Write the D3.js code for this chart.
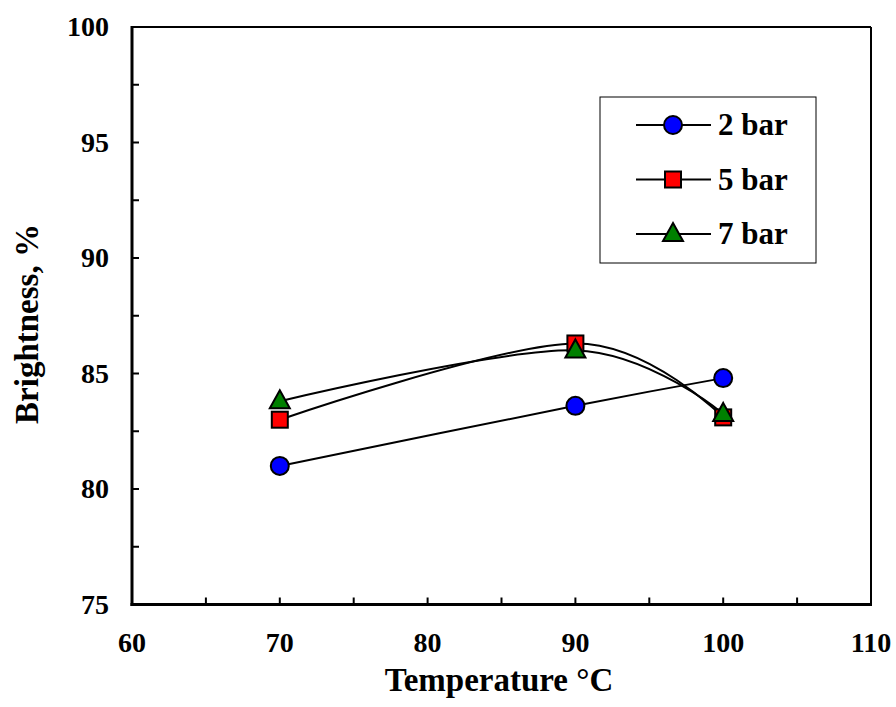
<!DOCTYPE html>
<html>
<head>
<meta charset="utf-8">
<script src="https://cdn.jsdelivr.net/npm/d3@7"></script>
<style>
  body { margin: 0; background: #fff; }
</style>
</head>
<body>
<svg id="chart" width="896" height="707"></svg>
<script>
'use strict';

// temperature (°C) and brightness (%) per pressure
var temps = [70, 90, 100];
var bar2 = [81.0, 83.6, 84.8];
var bar5 = [83.0, 86.3, 83.1];
var bar7 = [83.8, 86.0, 83.25];
var seriesNames = ['2 bar', '5 bar', '7 bar'];
var xTicks = [60, 70, 80, 90, 100, 110];
var yTicks = [75, 80, 85, 90, 95, 100];

var FONT = '"Liberation Serif", "Times New Roman", Times, "DejaVu Serif", serif';

var svg = d3.select('#chart')
    .style('font-family', FONT)
    .style('font-weight', 'bold');

var pLeft = 132, pRight = 871, pTop = 27, pBottom = 604.5;

var x = d3.scaleLinear().domain([60, 110]).range([pLeft, pRight]),
    y = d3.scaleLinear().domain([75, 100]).range([pBottom, pTop]);

var series = [
    {name: seriesNames[0], values: bar2, fill: '#0000ff', shape: 'circle'},
    {name: seriesNames[1], values: bar5, fill: '#ff0000', shape: 'square'},
    {name: seriesNames[2], values: bar7, fill: '#008000', shape: 'triangle'}
];

function label(sel) {
    return sel.style('font-family', FONT).style('font-weight', 'bold').attr('fill', '#000');
}

// frame: top/right thinner than the axes
svg.append('line')
    .attr('x1', pLeft).attr('x2', pRight).attr('y1', pTop).attr('y2', pTop)
    .attr('stroke', '#000').attr('stroke-width', 2);
svg.append('line')
    .attr('x1', pRight).attr('x2', pRight).attr('y1', pTop).attr('y2', pBottom)
    .attr('stroke', '#000').attr('stroke-width', 2);

// ticks point inwards, minor ticks between majors
var gx = svg.append('g');
d3.range(60, 110.1, 5).forEach(function(v) {
    gx.append('line')
        .attr('x1', x(v)).attr('x2', x(v))
        .attr('y1', pBottom).attr('y2', pBottom - 7)
        .attr('stroke', '#000').attr('stroke-width', 2);
});
gx.selectAll('text.tick')
    .data(xTicks)
    .enter().append('text')
        .attr('class', 'tick')
        .attr('x', function(d) { return x(d); })
        .attr('y', 652)
        .attr('text-anchor', 'middle')
        .attr('font-size', 28)
        .call(label)
        .text(function(d) { return d; });

var gy = svg.append('g');
d3.range(75, 100.1, 2.5).forEach(function(v) {
    gy.append('line')
        .attr('x1', pLeft).attr('x2', pLeft + 7)
        .attr('y1', y(v)).attr('y2', y(v))
        .attr('stroke', '#000').attr('stroke-width', 2);
});
gy.selectAll('text.tick')
    .data(yTicks)
    .enter().append('text')
        .attr('class', 'tick')
        .attr('x', 109)
        .attr('y', function(d) { return y(d) + 9; })
        .attr('text-anchor', 'end')
        .attr('font-size', 28)
        .call(label)
        .text(function(d) { return d; });

svg.append('line')
    .attr('x1', pLeft).attr('x2', pLeft).attr('y1', pTop - 1).attr('y2', pBottom + 1.5)
    .attr('stroke', '#000').attr('stroke-width', 3);
svg.append('line')
    .attr('x1', pLeft - 1.5).attr('x2', pRight + 1).attr('y1', pBottom).attr('y2', pBottom)
    .attr('stroke', '#000').attr('stroke-width', 3);

// axis titles
svg.append('text')
    .attr('x', 499)
    .attr('y', 691)
    .attr('text-anchor', 'middle')
    .attr('font-size', 33)
    .call(label)
    .text('Temperature °C');
svg.append('text')
    .attr('transform', 'translate(38,324) rotate(-90)')
    .attr('text-anchor', 'middle')
    .attr('font-size', 33)
    .call(label)
    .text('Brightness, %');

function drawMarker(g, shape, fill) {
    if(shape === 'circle') {
        g.append('circle').attr('r', 9);
    }
    else if(shape === 'square') {
        g.append('rect').attr('x', -8).attr('y', -8).attr('width', 16).attr('height', 16);
    }
    else {
        g.append('path').attr('d', 'M0,-11L10,7L-10,7Z');
    }
    g.selectAll('*').attr('fill', fill).attr('stroke', '#000').attr('stroke-width', 2);
}

var line = d3.line()
    .x(function(d) { return x(d[0]); })
    .y(function(d) { return y(d[1]); })
    .curve(d3.curveCatmullRom.alpha(0));

series.forEach(function(s) {
    var pts = temps.map(function(t, i) { return [t, s.values[i]]; });
    svg.append('path')
        .datum(pts)
        .attr('d', line)
        .attr('fill', 'none')
        .attr('stroke', '#000')
        .attr('stroke-width', 2);
});

series.forEach(function(s) {
    temps.forEach(function(t, i) {
        var g = svg.append('g')
            .attr('transform', 'translate(' + x(t) + ',' + y(s.values[i]) + ')');
        drawMarker(g, s.shape, s.fill);
    });
});

// legend
var legend = svg.append('g');
legend.append('rect')
    .attr('x', 600).attr('y', 97).attr('width', 216).attr('height', 166)
    .attr('fill', '#fff').attr('stroke', '#000').attr('stroke-width', 1);

series.forEach(function(s, i) {
    var ly = 125 + i * 54.5;
    legend.append('line')
        .attr('x1', 636).attr('x2', 711).attr('y1', ly).attr('y2', ly)
        .attr('stroke', '#000').attr('stroke-width', 2);
    drawMarker(legend.append('g').attr('transform', 'translate(673,' + ly + ')'), s.shape, s.fill);
    legend.append('text')
        .attr('x', 718).attr('y', ly + 10)
        .attr('font-size', 31)
        .call(label)
        .text(s.name);
});
</script>
</body>
</html>
